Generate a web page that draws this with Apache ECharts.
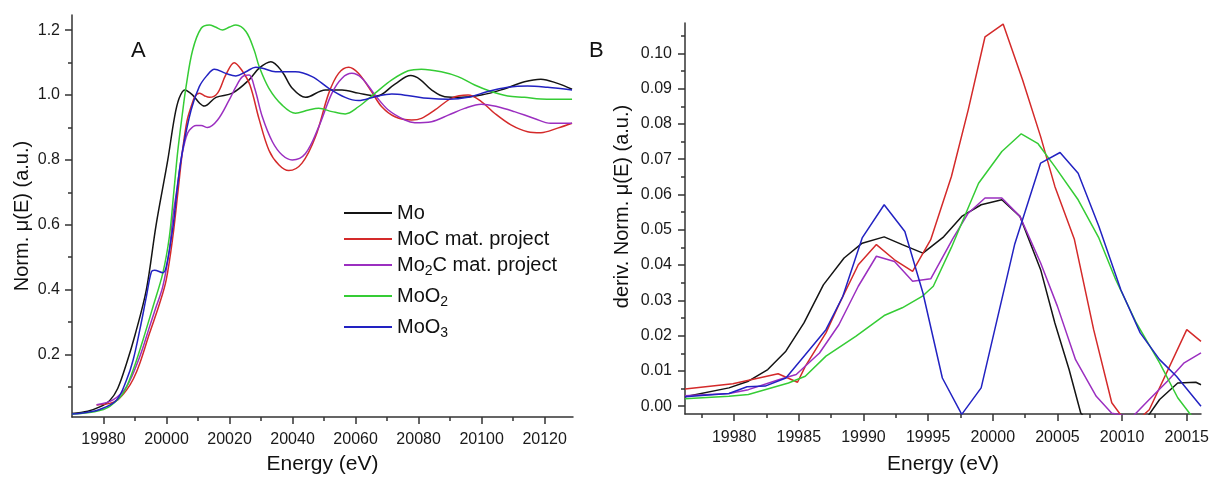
<!DOCTYPE html>
<html><head><meta charset="utf-8">
<script src="https://cdn.jsdelivr.net/npm/echarts@6/dist/echarts.min.js"></script>
<style>html,body{margin:0;padding:0;background:#fff}#c{width:1213px;height:482px}</style>
</head><body><div id="c"></div>
<script>
// ---------- names / colours ----------
const seriesNames = ['Mo', 'MoC mat. project', 'Mo2C mat. project', 'MoO2', 'MoO3'];
const seriesColors = ['#141414', '#d42a2a', '#9b2fc0', '#35cc35', '#2222c2'];

// ---------- Panel A : Norm. mu(E) ----------
const eMoA = [19970,19975,19978.8,19982,19984.5,19987.3,19990,19993.6,19996.7,20000.4,20002.5,20004,20005.8,20008.3,20010.5,20012,20015.7,20020.9,20026.2,20029.4,20033.1,20036.7,20039.9,20044.1,20050.4,20055.7,20060.9,20066.7,20072.5,20077.5,20080.5,20084.1,20088.3,20093.6,20099.9,20106.2,20113.6,20118.8,20124.1,20128.7];
const muMoA = [0.018,0.025,0.038,0.058,0.095,0.172,0.26,0.4,0.6,0.8,0.93,0.99,1.016,1.0,0.975,0.966,0.993,1.006,1.047,1.083,1.103,1.072,1.021,0.993,1.016,1.016,1.006,0.997,1.034,1.06,1.048,1.016,0.995,0.993,1.0,1.016,1.041,1.049,1.036,1.018];

const eMoCA = [19977.8,19982,19984.5,19987.3,19989.5,19991.5,19994.6,19997.8,19999.9,20002,20003.6,20005.1,20006.5,20007.8,20009,20010.4,20012,20013.6,20016.2,20018.8,20021.5,20024,20026.5,20029.4,20032.5,20035.7,20038.8,20043,20047.3,20051.5,20054.6,20057.8,20060.9,20065.1,20068.3,20072.5,20077.8,20080.9,20085.2,20090.4,20095.7,20099.9,20104.1,20109.3,20114.6,20118.8,20124.1,20128.7];
const muMoCA = [0.044,0.049,0.06,0.09,0.125,0.172,0.265,0.357,0.43,0.563,0.7,0.83,0.92,0.964,0.995,1.006,0.998,0.993,1.006,1.062,1.1,1.075,1.03,0.925,0.83,0.784,0.767,0.79,0.872,1.006,1.067,1.086,1.067,1.01,0.964,0.933,0.923,0.928,0.954,0.99,1.0,0.98,0.944,0.908,0.887,0.884,0.898,0.913];

const eMo2CA = [19977.8,19983,19987.3,19991.5,19994.6,19996.7,19998.8,20000.9,20002,20003.3,20004.6,20006.2,20007.3,20009.4,20011,20013,20016.2,20019.9,20022,20024.1,20026.2,20028,20030.4,20033.6,20036.7,20039.9,20044.1,20048.3,20052.5,20055.7,20058.8,20062,20066.2,20070.4,20075.7,20078.8,20084.1,20089.4,20094.6,20099.9,20105.1,20110.4,20116.7,20121.9,20128.7];
const muMo2CA = [0.045,0.06,0.1,0.193,0.285,0.347,0.409,0.522,0.625,0.71,0.8,0.87,0.892,0.906,0.906,0.9,0.923,0.985,1.025,1.057,1.062,1.02,0.933,0.856,0.815,0.8,0.82,0.902,1.006,1.052,1.067,1.052,1.0,0.954,0.923,0.915,0.918,0.938,0.959,0.972,0.964,0.949,0.928,0.913,0.913];

const eMoO2A = [19970,19975,19978.8,19982,19986.2,19989.4,19992.5,19995.7,19998.8,20000.9,20002.3,20003.6,20005,20006.2,20008.3,20011,20013.6,20015.5,20017.8,20020,20022,20025.2,20027.8,20029.4,20032.5,20036.7,20040.9,20045.1,20048.3,20052.5,20056.7,20060.9,20066.2,20071.5,20076.7,20080.9,20087.2,20092.5,20097.8,20103,20108.3,20113.6,20118.8,20128.7];
const muMoO2A = [0.016,0.02,0.027,0.04,0.08,0.152,0.244,0.347,0.45,0.563,0.7,0.83,0.94,1.026,1.139,1.206,1.216,1.21,1.201,1.21,1.216,1.196,1.139,1.088,1.021,0.969,0.944,0.954,0.959,0.949,0.942,0.964,1.006,1.047,1.075,1.08,1.072,1.057,1.031,1.011,0.997,0.993,0.988,0.987];

const eMoO3A = [19970,19975,19978.8,19984.1,19987.3,19989.4,19991.5,19993.6,19995.2,19996.2,19998.8,19999.9,20002,20003.5,20005.1,20007.8,20010.4,20012.8,20015.2,20018.8,20022,20025.2,20028.3,20030.4,20034.6,20040.9,20046.2,20051.5,20056.7,20060.9,20066.2,20071.5,20077,20083,20089.4,20095.7,20102,20108.3,20114.6,20120.9,20128.7];
const muMoO3A = [0.016,0.022,0.03,0.059,0.121,0.183,0.275,0.378,0.455,0.46,0.452,0.47,0.59,0.72,0.83,0.954,1.026,1.06,1.08,1.067,1.059,1.072,1.086,1.083,1.072,1.072,1.057,1.021,0.993,0.983,0.995,1.003,0.998,0.99,0.987,0.993,1.011,1.024,1.028,1.024,1.016];

// ---------- Panel B : derivative ----------
const eMoB = [19976.2,19979.6,19981.1,19982.6,19984,19985.4,19986.9,19988.5,19989.9,19991.6,19993,19994.6,19996.2,19997.6,19999.1,20000.7,20002.1,20003.7,20004.8,20005.9,20006.8,20008.5,20011,20012.9,20014.3,20015.7,20016.1];
const dMoB = [0.0027,0.0052,0.0071,0.0104,0.0156,0.0236,0.0344,0.042,0.0462,0.048,0.0458,0.0434,0.048,0.0538,0.0571,0.0585,0.0538,0.0387,0.0236,0.0104,-0.0019,-0.009,-0.008,0.0019,0.0066,0.0068,0.0061];

const eMoCB = [19976.2,19979.9,19983.4,19984.9,19985.5,19987.1,19988.1,19989.6,19991,19992.4,19993.8,19995.2,19996.8,19998.1,19999.4,20000.8,20002.3,20003.7,20004.8,20006.3,20007.8,20009.2,20010.6,20012.1,20015,20016.1];
const dMoCB = [0.0049,0.0064,0.0092,0.0068,0.0113,0.0208,0.0288,0.0401,0.0458,0.0415,0.0382,0.0472,0.0651,0.084,0.1047,0.1083,0.0925,0.0764,0.0623,0.0474,0.0217,0.001,-0.006,-0.001,0.0217,0.0184];

const eMo2CB = [19976.2,19979.6,19981.1,19983.5,19984.8,19986.6,19988.1,19989.6,19991,19992.4,19993.8,19995.2,19996.9,19998.1,19999.4,20000.7,20002.1,20003.7,20005,20006.4,20008,20009.2,20010.8,20012.1,20013.5,20014.8,20016.1];
const dMo2CB = [0.003,0.0036,0.0047,0.0076,0.009,0.0151,0.0231,0.034,0.0425,0.041,0.0354,0.0361,0.0474,0.0547,0.059,0.059,0.0538,0.0406,0.0283,0.0132,0.0028,-0.002,-0.003,0.0019,0.0071,0.0123,0.0151];

const eMoO2B = [19976.2,19979.6,19981.1,19984.2,19985.5,19987.1,19989.4,19991.6,19993,19994.6,19995.4,19996.8,19998.9,20000.7,20002.2,20003.5,20004.8,20006.6,20008.2,20009.5,20011.1,20012.9,20014.3,20015.2,20016.1];
const dMoO2B = [0.0021,0.0028,0.0033,0.0066,0.0085,0.0142,0.0198,0.0257,0.0279,0.0313,0.034,0.045,0.0632,0.0722,0.0772,0.0744,0.0679,0.0585,0.0477,0.0359,0.0236,0.0123,0.0024,-0.0019,-0.006];

const eMoO3B = [19976.2,19979.6,19981,19982.4,19984,19985.5,19987.1,19988.4,19989.9,19991.6,19993.2,19994.6,19996.1,19997.6,19999.1,20001.7,20003.7,20005.2,20006.6,20008.2,20009.9,20011.4,20012.9,20014.2,20016.1];
const dMoO3B = [0.0027,0.0036,0.0055,0.0057,0.008,0.0146,0.0217,0.0311,0.0477,0.0571,0.0495,0.0321,0.008,-0.0023,0.0052,0.046,0.0689,0.0719,0.066,0.051,0.033,0.0208,0.0132,0.0085,0.0];

// ---------- tick labels ----------
const tickXA = [19980,20000,20020,20040,20060,20080,20100,20120];
const minorXA = [19990,20010,20030,20050,20070,20090,20110];
const tickYA = [0.2,0.4,0.6,0.8,1.0,1.2];
const minorYA = [0.1,0.3,0.5,0.7,0.9,1.1];
const tickXB = [19980,19985,19990,19995,20000,20005,20010,20015];
const minorXB = [19977.5,19982.5,19987.5,19992.5,19997.5,20002.5,20007.5,20012.5];
const tickYB = [0,0.01,0.02,0.03,0.04,0.05,0.06,0.07,0.08,0.09,0.10];
const minorYB = [0.005,0.015,0.025,0.035,0.045,0.055,0.065,0.075,0.085,0.095,0.105];

// ---------- build ----------
const FONT = 'Arial, "Liberation Sans", sans-serif';
const AX = '#333';
const chart = echarts.init(document.getElementById('c'), null, {renderer: 'canvas'});

function zip(xs, ys) { return xs.map((x, i) => [x, ys[i]]); }

const panelA = [[eMoA, muMoA], [eMoCA, muMoCA], [eMo2CA, muMo2CA], [eMoO2A, muMoO2A], [eMoO3A, muMoO3A]];
const panelB = [[eMoB, dMoB], [eMoCB, dMoCB], [eMo2CB, dMo2CB], [eMoO2B, dMoO2B], [eMoO3B, dMoO3B]];

const series = [];
panelA.forEach((p, i) => series.push({
  name: seriesNames[i], type: 'line', xAxisIndex: 0, yAxisIndex: 0,
  data: zip(p[0], p[1]), smooth: 0.35, symbol: 'none', clip: true,
  lineStyle: {color: seriesColors[i], width: 1.5}, itemStyle: {color: seriesColors[i]}, z: 3
}));
panelB.forEach((p, i) => series.push({
  name: seriesNames[i], type: 'line', xAxisIndex: 2, yAxisIndex: 2,
  data: zip(p[0], p[1]), smooth: false, symbol: 'none', clip: true,
  lineStyle: {color: seriesColors[i], width: 1.5}, itemStyle: {color: seriesColors[i]}, z: 3
}));

function mainAxis(o) {
  return Object.assign({
    type: 'value', splitLine: {show: false},
    axisLine: {show: true, onZero: false, lineStyle: {color: AX, width: 1.5}},
    nameTextStyle: {fontSize: 20, color: '#111', fontFamily: FONT},
  }, o);
}
function minorAxis(o) {
  return Object.assign({
    type: 'value', splitLine: {show: false},
    axisLine: {show: false, onZero: false},
    axisLabel: {show: false},
  }, o);
}

const xAxis = [
  mainAxis({gridIndex: 0, min: 19970, max: 20129, position: 'bottom',
    axisTick: {show: true, customValues: tickXA, length: 7, lineStyle: {color: AX, width: 1.5}},
    axisLabel: {customValues: tickXA, fontSize: 16, color: '#1a1a1a', fontFamily: FONT, margin: 15,
      formatter: v => String(Math.round(v))},
    name: 'Energy (eV)', nameLocation: 'middle', nameGap: 37,
    nameTextStyle: {fontSize: 21, color: '#111', fontFamily: FONT}}),
  minorAxis({gridIndex: 0, min: 19970, max: 20129, position: 'bottom',
    axisTick: {show: true, customValues: minorXA, length: 4, lineStyle: {color: AX, width: 1.5}}}),
  mainAxis({gridIndex: 1, min: 19976.2, max: 20016.1, position: 'bottom',
    axisTick: {show: true, customValues: tickXB, length: 7, lineStyle: {color: AX, width: 1.5}},
    axisLabel: {customValues: tickXB, fontSize: 16, color: '#1a1a1a', fontFamily: FONT, margin: 16,
      formatter: v => String(Math.round(v))},
    name: 'Energy (eV)', nameLocation: 'middle', nameGap: 40,
    nameTextStyle: {fontSize: 21, color: '#111', fontFamily: FONT}}),
  minorAxis({gridIndex: 1, min: 19976.2, max: 20016.1, position: 'bottom',
    axisTick: {show: true, customValues: minorXB, length: 4, lineStyle: {color: AX, width: 1.5}}}),
];
const yAxis = [
  mainAxis({gridIndex: 0, min: 0.007, max: 1.247, position: 'left',
    axisTick: {show: true, customValues: tickYA, length: 7, lineStyle: {color: AX, width: 1.5}},
    axisLabel: {customValues: tickYA, fontSize: 16, color: '#1a1a1a', fontFamily: FONT, margin: 12,
      formatter: v => Number(v).toFixed(1)},
    name: 'Norm. μ(E) (a.u.)', nameLocation: 'middle', nameGap: 40}),
  minorAxis({gridIndex: 0, min: 0.007, max: 1.247, position: 'left',
    axisTick: {show: true, customValues: minorYA, length: 4, lineStyle: {color: AX, width: 1.5}}}),
  mainAxis({gridIndex: 1, min: -0.0022, max: 0.1086, position: 'left',
    axisTick: {show: true, customValues: tickYB, length: 7, lineStyle: {color: AX, width: 1.5}},
    axisLabel: {customValues: tickYB, fontSize: 16, color: '#1a1a1a', fontFamily: FONT, margin: 13,
      formatter: v => Number(v).toFixed(2)},
    name: 'deriv. Norm. μ(E) (a.u.)', nameLocation: 'middle', nameGap: 53,
    nameTextStyle: {fontSize: 20, color: '#111', fontFamily: FONT, padding: [0, 0, 0, 24]}}),
  minorAxis({gridIndex: 1, min: -0.0022, max: 0.1086, position: 'left',
    axisTick: {show: true, customValues: minorYB, length: 4, lineStyle: {color: AX, width: 1.5}}}),
];

const legendRowCenters = [213, 239, 264, 295, 326];
const rich = {
  n: {fontSize: 20, color: '#111', fontFamily: FONT},
  s: {fontSize: 14, color: '#111', fontFamily: FONT, padding: [12, 0, 0, 0]}
};
function legendFmt(name) {
  return name.split(/(\d)/).filter(Boolean)
    .map(p => /^\d$/.test(p) ? '{s|' + p + '}' : '{n|' + p + '}').join('');
}
const legend = seriesNames.map((n, i) => {
  const hasSub = /\d/.test(n);
  return {
    data: [n], left: 344, top: legendRowCenters[i] - (hasSub ? 9 : 10),
    padding: 0, itemWidth: 48, itemHeight: 2, icon: 'rect', selectedMode: false,
    formatter: legendFmt,
    textStyle: {fontSize: 20, color: '#111', fontFamily: FONT, rich: rich}
  };
});

chart.setOption({
  animation: false,
  backgroundColor: '#fff',
  grid: [
    {left: 72, top: 15, width: 501, height: 402},
    {left: 685, top: 23, width: 516, height: 391}
  ],
  xAxis: xAxis,
  yAxis: yAxis,
  legend: legend,
  graphic: [
    {type: 'text', left: 131, top: 40, style: {text: 'A', fontSize: 22, fill: '#111', fontFamily: FONT}},
    {type: 'text', left: 589, top: 40, style: {text: 'B', fontSize: 22, fill: '#111', fontFamily: FONT}}
  ],
  series: series
});
</script></body></html>
